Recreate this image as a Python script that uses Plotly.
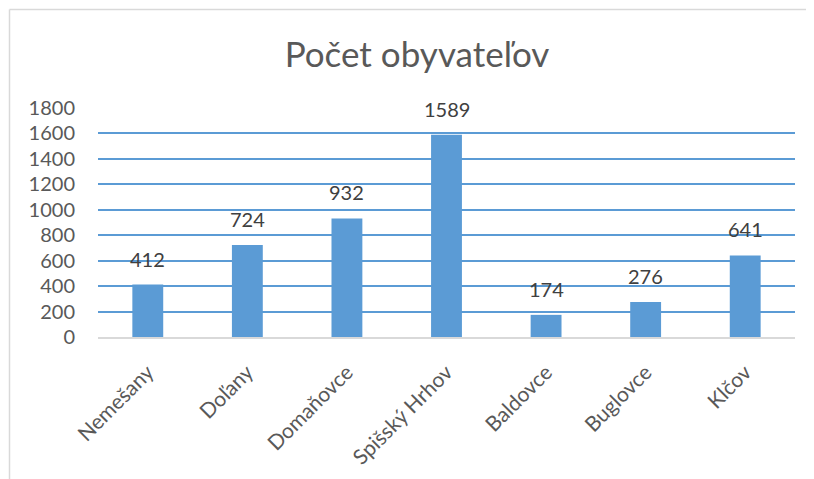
import plotly.graph_objects as go

categories = ["Nemešany", "Doľany", "Domaňovce", "Spišský Hrhov", "Baldovce", "Buglovce", "Klčov"]
values = [412, 724, 932, 1589, 174, 276, 641]
tick_vals = [0, 200, 400, 600, 800, 1000, 1200, 1400, 1600, 1800]
title_text = "Počet obyvateľov"

# page body has an 8px margin; figure sized to fill the rest of the window
OFF = 8
W, H = 814 - OFF, 479 - OFF
L, R, T, B = 98 - OFF, 19, 108 - OFF, 142
pw, ph = W - L - R, H - T - B

fig = go.Figure(go.Bar(
    x=categories, y=values,
    marker=dict(color="#5B9BD5", line=dict(width=0)),
    width=0.31,
))

fx = lambda px: (px - L) / pw
fy = lambda py: 1 - (py - T) / ph

annotations = [
    dict(x=c, y=v, xref="x", yref="y", text=str(v), showarrow=False,
         yanchor="bottom", xanchor="center", yshift=12,
         font=dict(size=20, color="#404040", family="Lato"))
    for c, v in zip(categories, values)
]

fig.update_layout(
    width=W, height=H,
    margin=dict(l=L, r=R, t=T, b=B, autoexpand=False),
    paper_bgcolor="white", plot_bgcolor="white",
    title=dict(text=title_text, x=(417 - OFF) / W, xanchor="center", y=1 - (55 - OFF) / H, yanchor="middle",
               font=dict(size=35, color="#595959", family="Lato")),
    font=dict(family="Lato", color="#595959"),
    showlegend=False,
    xaxis=dict(tickangle=-45, tickfont=dict(size=21, color="#595959"), showgrid=False,
               showline=True, linecolor="#D9D9D9", linewidth=1.5, ticks="", ticklabelstandoff=13),
    yaxis=dict(range=[0, 1800], tickvals=tick_vals, tickfont=dict(size=20, color="#595959"),
               showgrid=True, gridcolor="#5B9BD5", gridwidth=1.5, zeroline=False, ticks="",
               ticklabelstandoff=22),
    annotations=annotations,
    shapes=[
        dict(type="line", xref="paper", yref="paper", x0=fx(1.5), x1=fx(W + 5), y0=fy(1.5), y1=fy(1.5),
             line=dict(color="#D9D9D9", width=1.5)),
        dict(type="line", xref="paper", yref="paper", x0=fx(1.5), x1=fx(1.5), y0=fy(1.5), y1=fy(H + 5),
             line=dict(color="#D9D9D9", width=1.5)),
    ],
)

fig.write_html("out.html")
